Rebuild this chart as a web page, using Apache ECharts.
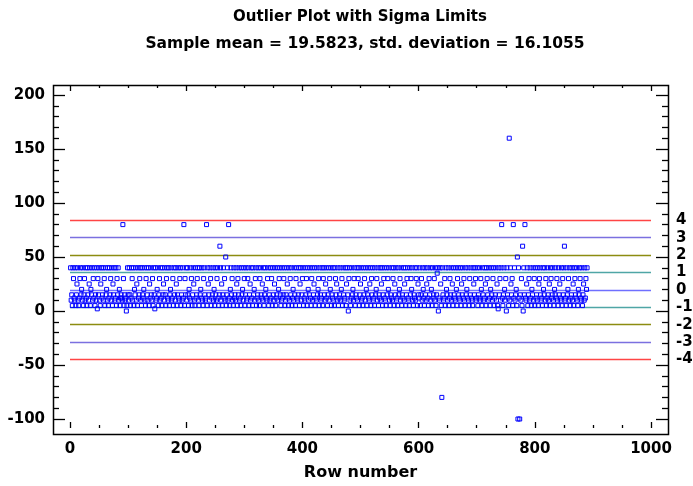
<!DOCTYPE html>
<html><head><meta charset="utf-8">
<script src="https://cdn.jsdelivr.net/npm/echarts@6/dist/echarts.min.js"></script>
<style>html,body{margin:0;padding:0;background:#fff}#c{width:693px;height:486px}</style>
</head><body><div id="c"></div>
<script>
// ---- data ----
const titleMain = 'Outlier Plot with Sigma Limits';
const sampleMean = 19.5823;
const sampleSd = 16.1055;
const sigmaKs = [4, 3, 2, 1, 0, -1, -2, -3, -4];
const xAxisName = 'Row number';

const rows001to100 = [
  40,10,15,5,40,30,12,10,40,5,
  15,25,40,10,5,12,30,40,15,20,
  10,40,5,15,30,10,40,12,5,40,
  15,10,25,40,5,20,15,40,10,30,
  12,40,5,15,10,40,2,30,15,40,
  10,5,25,40,12,15,40,10,30,5,
  40,15,20,10,40,5,12,40,15,30,
  10,40,5,25,15,40,10,12,40,5,
  30,15,40,10,20,5,12,15,12,10,
  80,30,5,15,10,12,0,5,40,15
];
const rows101to200 = [
  10,40,15,5,12,40,30,10,40,5,
  20,15,40,10,25,5,40,12,15,30,
  40,10,5,40,15,12,20,40,10,5,
  30,40,15,10,40,5,25,12,40,15,
  10,30,5,40,15,2,40,10,12,20,
  40,5,15,30,10,40,12,5,40,15,
  25,10,40,15,5,30,40,12,10,40,
  5,15,20,40,10,12,30,5,40,15,
  10,40,25,5,15,40,12,10,30,40,
  5,15,10,40,12,80,5,30,15,40
];
const rows201to300 = [
  10,40,15,5,20,12,40,10,30,5,
  15,40,25,10,5,40,12,15,30,40,
  10,5,40,15,20,12,40,10,5,30,
  40,15,10,12,80,5,40,25,15,10,
  40,30,5,12,15,40,10,20,5,40,
  15,10,30,40,12,5,15,60,40,10,
  25,5,15,40,12,30,10,50,5,15,
  40,10,80,12,5,20,40,15,30,10,
  5,40,12,15,10,40,25,5,30,15,
  40,10,12,5,40,15,20,10,40,30
];
const rows301to400 = [
  5,15,40,10,12,30,40,5,15,25,
  10,40,12,5,40,15,20,10,30,40,
  5,12,15,40,10,5,30,40,15,12,
  25,10,40,5,15,40,20,12,10,30,
  40,5,15,10,40,12,30,5,40,15,
  10,25,40,5,12,15,40,10,20,30,
  40,15,5,10,40,12,15,30,40,5,
  10,15,40,25,12,5,40,10,30,15,
  40,5,12,20,10,40,15,5,30,40,
  12,10,15,40,5,25,40,10,15,30
];
const rows401to500 = [
  40,5,12,10,40,15,30,5,40,20,
  10,15,40,12,5,30,40,10,15,25,
  40,5,12,10,40,15,20,30,5,40,
  15,10,12,40,5,30,40,15,10,25,
  40,12,5,15,40,10,30,20,40,5,
  15,12,40,10,5,40,30,15,25,10,
  40,5,12,15,40,10,20,30,5,40,
  15,10,12,40,5,25,40,15,0,30,
  40,10,5,12,40,15,20,10,30,40,
  5,15,12,40,10,30,40,5,15,25
];
const rows501to600 = [
  40,10,12,5,40,15,30,10,40,20,
  5,15,40,12,10,25,40,5,30,15,
  40,10,12,5,40,15,20,30,10,40,
  5,15,12,40,10,25,40,5,15,30,
  40,12,10,5,40,15,30,20,40,10,
  5,15,12,40,10,30,40,5,25,15,
  40,10,12,5,40,15,20,30,10,40,
  5,15,12,40,10,25,40,5,15,30,
  40,12,10,5,40,15,30,20,40,10,
  5,15,12,40,10,30,40,5,25,15
];
const rows601to700 = [
  12,40,5,15,30,10,40,20,12,5,
  40,15,10,25,40,12,5,30,15,40,
  10,20,5,40,12,15,30,10,40,5,
  15,35,40,0,12,10,40,25,5,-80,
  40,15,10,12,30,5,40,20,15,10,
  40,5,12,30,15,40,10,25,5,40,
  15,12,10,40,20,5,30,40,15,12,
  10,40,5,25,15,40,12,30,10,5,
  40,15,20,12,40,10,5,30,15,40,
  12,10,5,40,25,15,40,30,10,12
];
const rows701to800 = [
  40,5,15,12,40,10,30,20,5,40,
  15,10,12,40,25,5,40,30,15,10,
  40,12,5,20,40,15,10,30,40,5,
  12,15,40,10,25,5,2,40,15,30,
  10,40,80,12,5,15,40,20,10,30,
  0,40,15,12,5,160,10,40,25,15,
  30,5,80,12,40,10,15,20,5,50,
  -100,40,12,-100,15,10,30,5,60,0,
  40,15,80,12,10,25,40,5,15,30,
  10,40,12,5,20,15,40,10,30,5
];
const rows801to890 = [
  40,12,15,10,40,5,25,30,40,15,
  10,12,5,40,20,15,40,10,30,5,
  12,40,15,10,25,5,40,30,12,15,
  40,10,5,20,15,40,12,30,10,5,
  40,15,25,12,10,40,5,30,15,40,
  60,10,12,5,40,15,20,30,10,40,
  5,12,15,40,10,25,5,40,30,15,
  12,40,10,5,20,15,40,30,12,10,
  40,5,15,25,10,40,12,30,20,40
];

// ---- build ----
const values = [].concat(rows001to100, rows101to200, rows201to300, rows301to400,
  rows401to500, rows501to600, rows601to700, rows701to800, rows801to890);
const points = values.map((v, i) => [i + 1, v]);

const FONT = 'DejaVu Sans';
const lineColorFor = k => {
  const a = Math.abs(k);
  if (a === 4) return '#ff4545';
  if (a === 3) return '#7b70e0';
  if (a === 2) return '#8c8c10';
  if (a === 1) return '#4fa6a6';
  return '#6f6fff';
};
const sigmaLines = sigmaKs.map(k => ({
  yAxis: sampleMean + k * sampleSd,
  lineStyle: { color: lineColorFor(k), width: 1.3, type: 'solid' },
  label: { formatter: String(k) }
}));

const tickStyle = { color: '#000', width: 1.3 };
const plain = v => String(v);
const chart = echarts.init(document.getElementById('c'), null, { renderer: 'canvas' });
chart.setOption({
  animation: false,
  backgroundColor: '#fff',
  title: [
    { text: titleMain, left: 355, top: 5, textAlign: 'center',
      textStyle: { fontFamily: FONT, fontWeight: 'bold', fontSize: 15, color: '#000' } },
    { text: 'Sample mean = ' + sampleMean + ', std. deviation = ' + sampleSd,
      left: 360, top: 31, textAlign: 'center',
      textStyle: { fontFamily: FONT, fontWeight: 'bold', fontSize: 15.5, color: '#000' } }
  ],
  grid: { left: 70, right: 42, top: 95, bottom: 61, containLabel: false },
  xAxis: [
    { type: 'value', min: 0, max: 1000, interval: 200, position: 'bottom', offset: 9,
      axisLine: { show: false, onZero: false }, splitLine: { show: false },
      axisTick: { show: true, inside: true, length: 6, lineStyle: tickStyle },
      minorTick: { show: true, splitNumber: 4, length: 3, lineStyle: tickStyle },
      axisLabel: { margin: 14, formatter: plain, fontFamily: FONT, fontWeight: 'bold', fontSize: 15, color: '#000' },
      name: xAxisName, nameLocation: 'middle', nameGap: 37,
      nameTextStyle: { fontFamily: FONT, fontWeight: 'bold', fontSize: 16, color: '#000' } },
    { type: 'value', min: 0, max: 1000, interval: 200, position: 'top', offset: 10,
      axisLine: { show: false, onZero: false }, splitLine: { show: false }, axisLabel: { show: false },
      axisTick: { show: true, inside: true, length: 6, lineStyle: tickStyle },
      minorTick: { show: true, splitNumber: 4, length: 3, lineStyle: tickStyle } }
  ],
  yAxis: [
    { type: 'value', min: -100, max: 200, interval: 50, position: 'left', offset: 17,
      axisLine: { show: false, onZero: false }, splitLine: { show: false },
      axisTick: { show: true, inside: true, length: 12, lineStyle: tickStyle },
      minorTick: { show: true, splitNumber: 5, length: 6, lineStyle: tickStyle },
      axisLabel: { margin: 8, formatter: plain, fontFamily: FONT, fontWeight: 'bold', fontSize: 15, color: '#000' } },
    { type: 'value', min: -100, max: 200, interval: 50, position: 'right', offset: 17,
      axisLine: { show: false, onZero: false }, splitLine: { show: false }, axisLabel: { show: false },
      axisTick: { show: true, inside: true, length: 12, lineStyle: tickStyle },
      minorTick: { show: true, splitNumber: 5, length: 6, lineStyle: tickStyle } }
  ],
  graphic: [
    { type: 'rect', silent: true, z: 100,
      shape: { x: 53.5, y: 85.5, width: 615, height: 349 },
      style: { fill: 'none', stroke: '#000', lineWidth: 1.5 } }
  ],
  series: [{
    type: 'scatter',
    xAxisIndex: 0, yAxisIndex: 0,
    data: points,
    symbol: 'rect',
    symbolSize: 4,
    itemStyle: { color: 'rgba(255,255,255,0)', borderColor: '#0000ff', borderWidth: 1, opacity: 1 },
    emphasis: { disabled: true },
    z: 5,
    markLine: {
      silent: true,
      symbol: ['none', 'none'],
      z: 3,
      label: { show: true, position: 'end', distance: 25,
        fontFamily: FONT, fontWeight: 'bold', fontSize: 15, color: '#000' },
      data: sigmaLines
    }
  }]
});
</script>
</body></html>
